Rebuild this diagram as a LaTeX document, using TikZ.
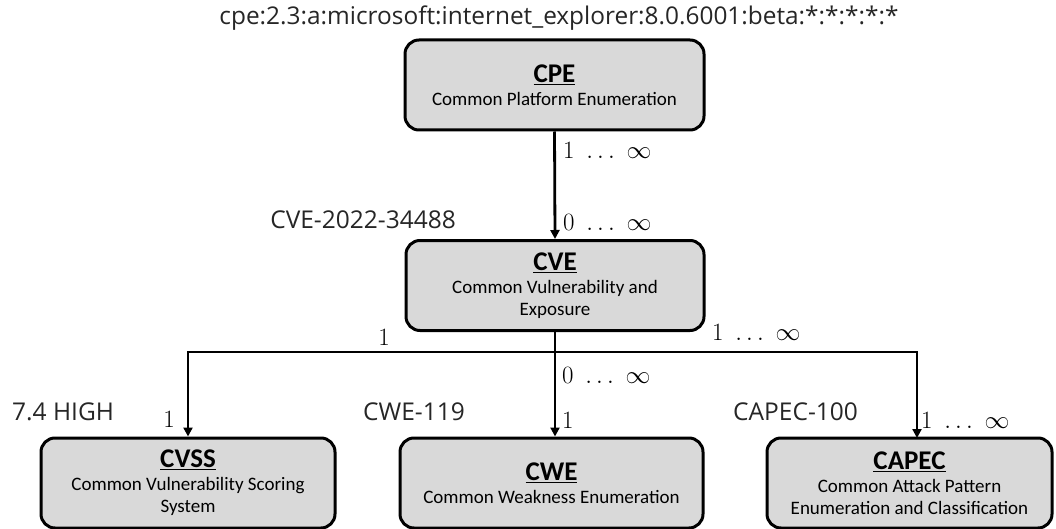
\documentclass[tikz,border=0pt]{standalone}
\usepackage{fontspec}
\usetikzlibrary{arrows.meta}
\newfontfamily\carl{Carlito}
\newfontfamily\lblfont{Open Sans}
\tikzset{
  ent/.style={draw=black, line width=3pt, rounded corners=14pt, fill=gray!30, minimum height=90pt, align=center, inner sep=0pt, font=\carl\fontsize{19}{22}\selectfont},
  conn/.style={line width=2.8pt, -{Triangle[length=9pt,width=9pt]}},
  mult/.style={inner sep=0pt, anchor=west, font=\fontsize{25}{28}\selectfont},
  idlbl/.style={inner sep=0pt, anchor=west, font=\lblfont\fontsize{24.5}{28}\selectfont, text=black!85},
}
\newcommand{\ttl}[1]{{\bfseries\fontsize{27}{30}\selectfont\underline{#1}}}
\begin{document}
\begin{tikzpicture}[x=1pt,y=-1pt]
\useasboundingbox (0,0) rectangle (1056,529);
\node[ent, minimum width=299pt] (cpe) at (554.5,85) {\ttl{CPE}\\[1pt]Common Platform Enumeration};
\node[ent, minimum width=298pt] (cve) at (555,285.5) {\ttl{CVE}\\[1pt]Common Vulnerability and\\Exposure};
\node[ent, minimum width=294pt] (cvss) at (188,483) {\ttl{CVSS}\\[1pt]Common Vulnerability Scoring\\System};
\node[ent, minimum width=303pt] (cwe) at (551.5,483) {\ttl{CWE}\\[1pt]Common Weakness Enumeration};
\node[ent, minimum width=285pt] (capec) at (909.5,483) {\ttl{CAPEC}\\[1pt]Common Attack Pattern\\Enumeration and Classification};
\coordinate (bus) at (555,352);
\coordinate (capin) at (917,438);
\draw[conn] (cpe.south) -- (cve.north);
\draw[conn] (cve.south) -- (cve.south |- cwe.north);
\draw[conn] (bus) -| (cvss.north);
\draw[conn] (bus) -| (capin);
\node[inner sep=0pt, font=\lblfont\fontsize{24.4}{28}\selectfont, text=black!85] (cpeid) at (559,18) {cpe:2.3:a:microsoft:internet\_explorer:8.0.6001:beta:*:*:*:*:*};
\node[idlbl, anchor=east] (cveid) at (456,220) {CVE-2022-34488};
\node[idlbl] (cvssid) at (12,412) {7.4 HIGH};
\node[idlbl] (cweid) at (363,412) {CWE-119};
\node[idlbl] (capecid) at (733,412) {CAPEC-100};
\node[mult] (m1) at (563,150) {$1\ \ldots\ \infty$};
\node[mult] (m2) at (563,222) {$0\ \ldots\ \infty$};
\node[mult, anchor=center] (m3) at (384,337) {$1$};
\node[mult] (m4) at (712,332) {$1\ \ldots\ \infty$};
\node[mult] (m5) at (562,375) {$0\ \ldots\ \infty$};
\node[mult, anchor=center] (m6) at (169,419) {$1$};
\node[mult] (m7) at (562,420) {$1$};
\node[mult] (m8) at (921,420) {$1\ \ldots\ \infty$};
\end{tikzpicture}
\end{document}
